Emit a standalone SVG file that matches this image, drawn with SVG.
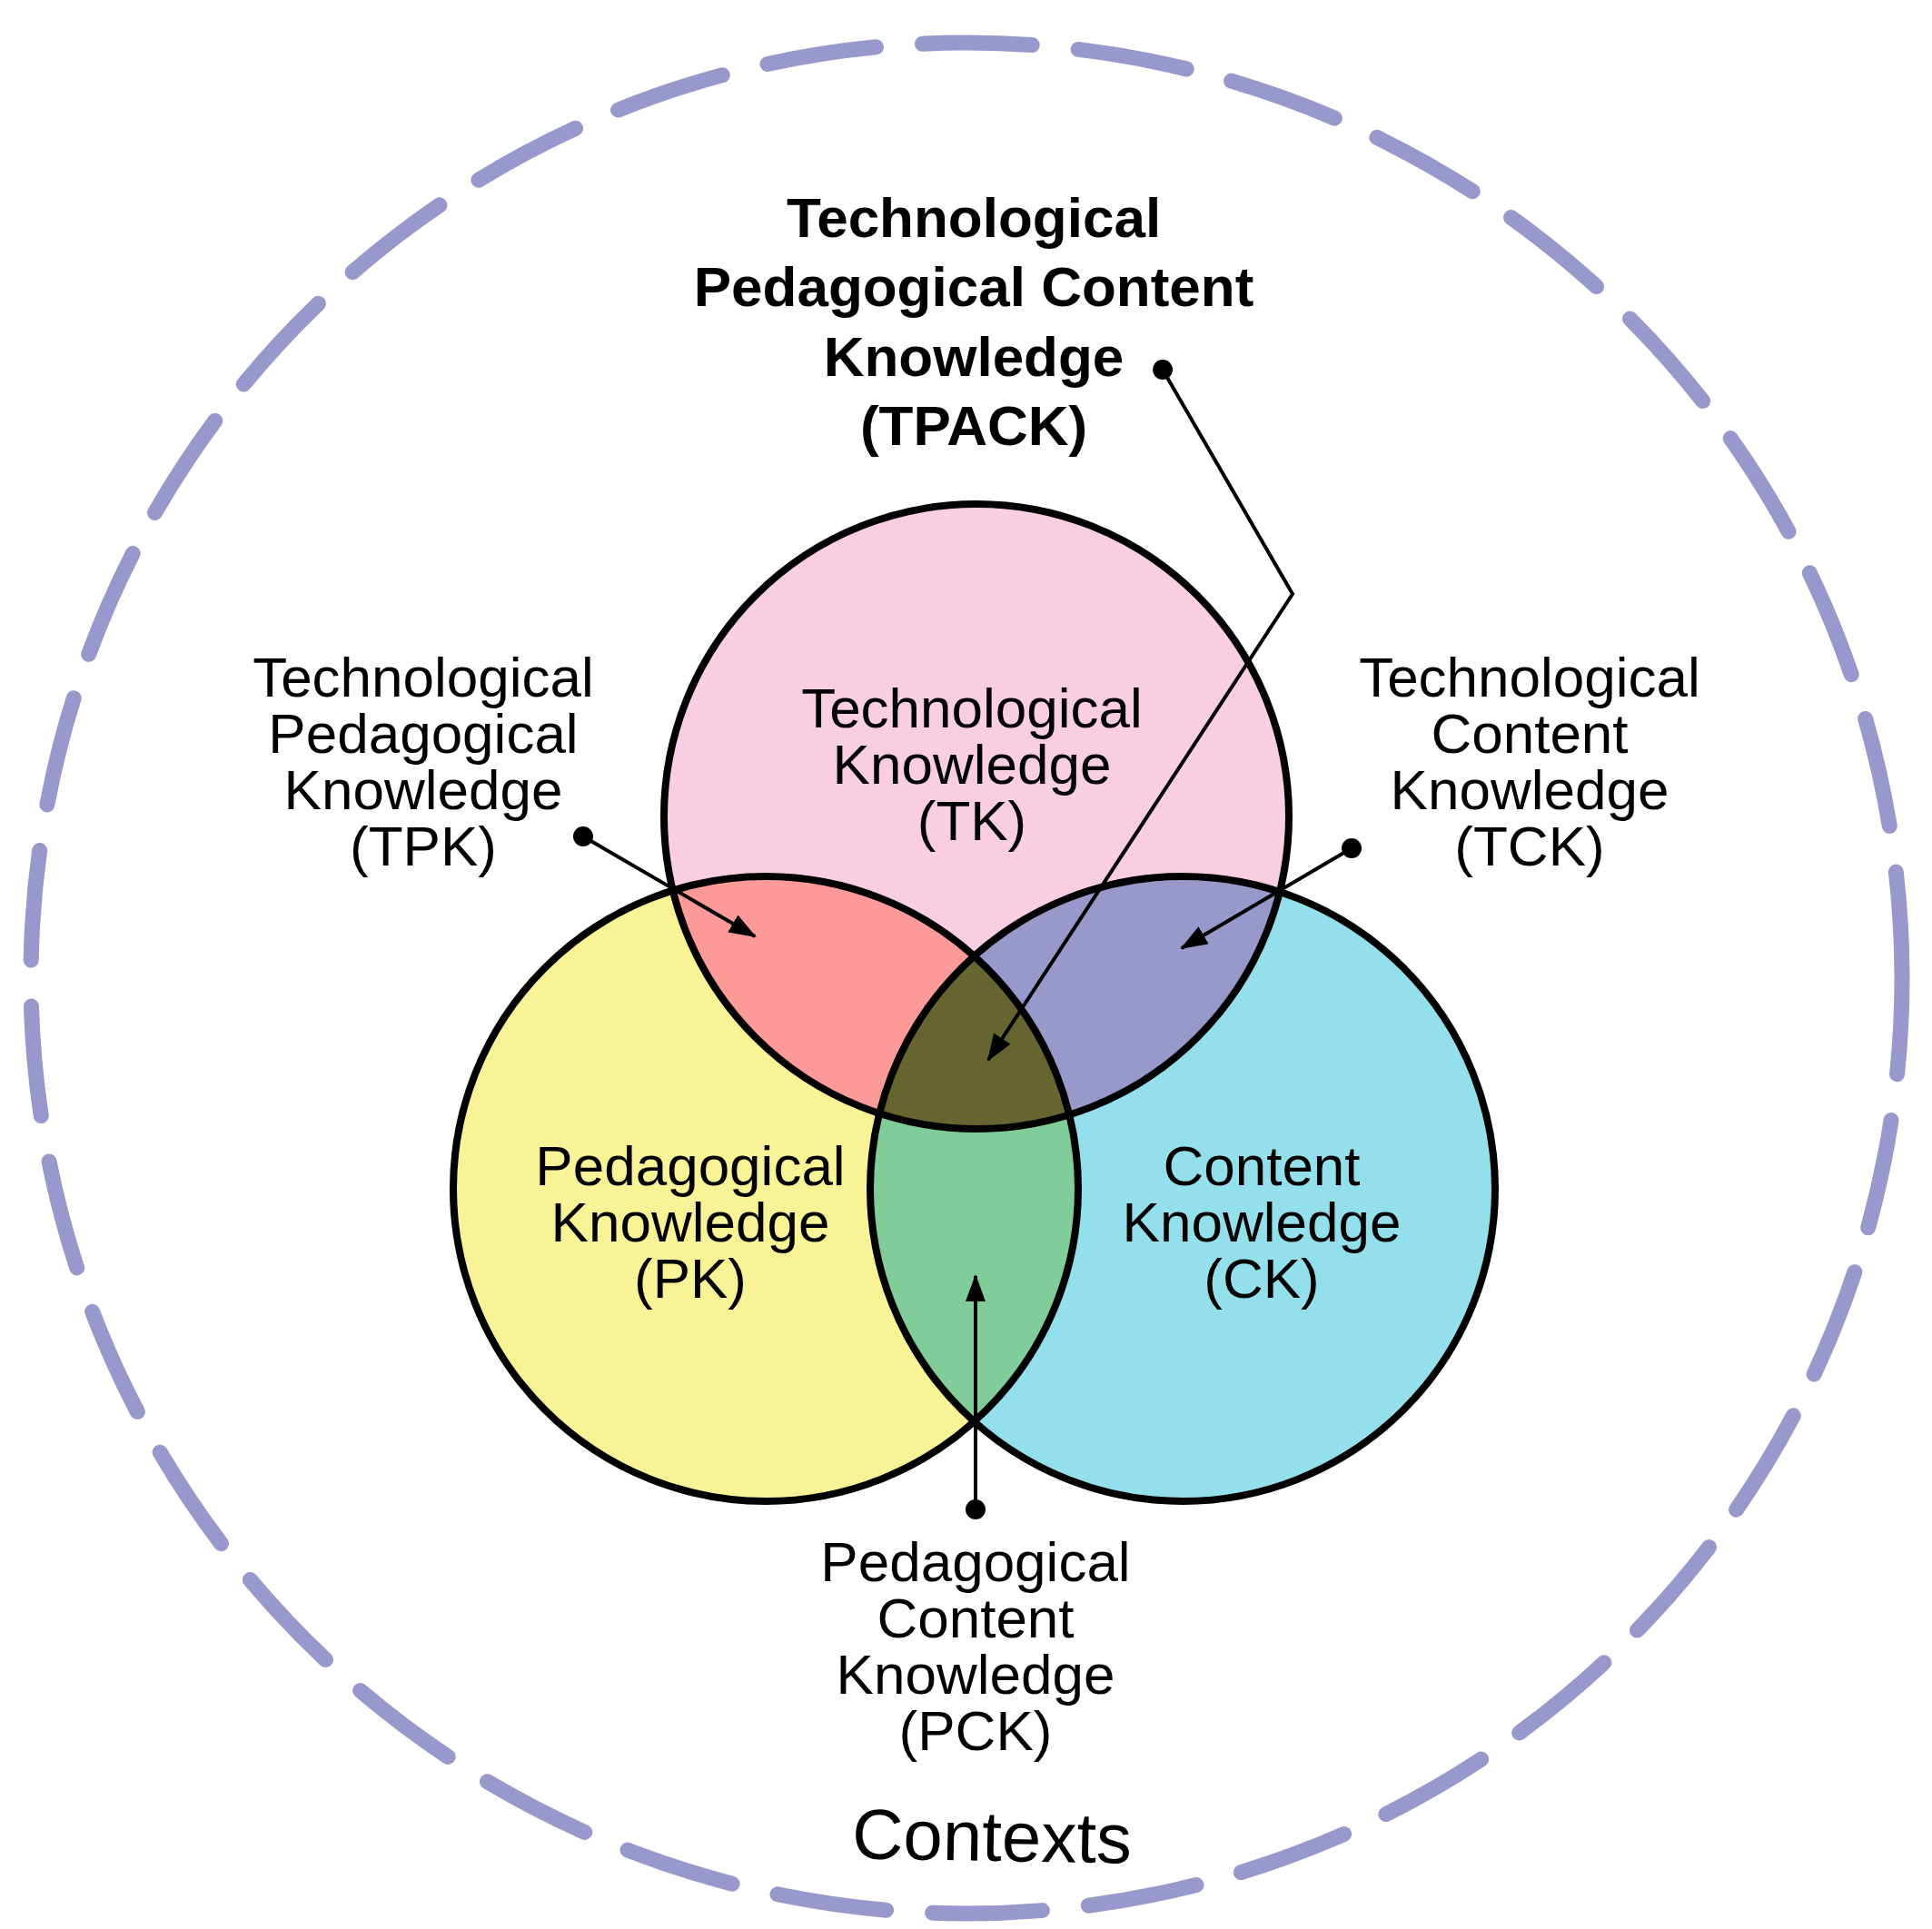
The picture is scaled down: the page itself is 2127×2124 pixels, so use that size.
<svg xmlns="http://www.w3.org/2000/svg" width="2127" height="2124" viewBox="0 0 2127 2124">
<style>
.lbl{font-family:"Liberation Sans",Arial,sans-serif;font-size:62px;fill:#000;text-anchor:middle}
.bold{font-weight:bold}
.ring{fill:none;stroke:#000;stroke-width:8}
.conn{fill:none;stroke:#000;stroke-width:4}
.dot{fill:#000}
</style>
<defs>
<clipPath id="cTK"><circle cx="1075" cy="899" r="344"/></clipPath>
<clipPath id="cPK"><circle cx="843" cy="1309" r="344"/></clipPath>
<marker id="arr" markerUnits="userSpaceOnUse" markerWidth="30" markerHeight="22" viewBox="0 0 30 22" refX="28" refY="11" orient="auto">
<path d="M0,0 L30,11 L0,22 z" fill="#000"/>
</marker>
</defs>
<rect width="2127" height="2124" fill="#fff"/>
<g id="contexts">
<circle cx="1064" cy="1077" r="1030" fill="none" stroke="#9898CC" stroke-width="17" stroke-linecap="round" stroke-dasharray="106 51.13 121 51.13 121 51.13 121 51.13 121 51.13 121 51.13 121 51.13 121 51.13 121 51.13 121 51.13 121 51.13 121 51.13 121 51.13 121 51.13 121 51.13 121 51.13 121 51.13 121 51.13 121 51.13 121 51.13 121 51.13 121 51.13 121 51.13 121 51.13 121 51.13 121 51.13 121 51.13 121 51.13 121 51.13 121 51.13 121 51.13 121 51.13 121 51.13 121 51.13 121 51.13 121 51.13 121 51.13 125"/>
<text class="lbl" x="1092" y="2049" style="font-size:78px" transform="rotate(1 1092 2030)">Contexts</text>
</g>
<g id="tk"><circle cx="1075" cy="899" r="344" fill="#F9CDE2"/></g>
<g id="pk"><circle cx="843" cy="1309" r="344" fill="#F9F397"/></g>
<g id="ck"><circle cx="1302" cy="1309" r="344" fill="#93E0EC"/></g>
<g id="tpk-region"><circle cx="843" cy="1309" r="344" fill="#FC9999" clip-path="url(#cTK)"/></g>
<g id="tck-region"><circle cx="1302" cy="1309" r="344" fill="#9898CB" clip-path="url(#cTK)"/></g>
<g id="pck-region"><circle cx="1302" cy="1309" r="344" fill="#80CD99" clip-path="url(#cPK)"/></g>
<g id="tpack-region" clip-path="url(#cTK)"><circle cx="1302" cy="1309" r="344" fill="#66652F" clip-path="url(#cPK)"/></g>
<g id="outlines">
<circle class="ring" cx="1075" cy="899" r="344"/>
<circle class="ring" cx="843" cy="1309" r="344"/>
<circle class="ring" cx="1302" cy="1309" r="344"/>
</g>
<g id="connectors">
<polyline class="conn" points="1280,407 1423,654 1088,1167" marker-end="url(#arr)"/>
<line class="conn" x1="642" y1="921" x2="831" y2="1031" marker-end="url(#arr)"/>
<line class="conn" x1="1488" y1="934" x2="1301" y2="1044" marker-end="url(#arr)"/>
<line class="conn" x1="1074" y1="1662" x2="1074" y2="1405" marker-end="url(#arr)"/>
<circle class="dot" cx="1280" cy="407" r="11"/>
<circle class="dot" cx="642" cy="921" r="11"/>
<circle class="dot" cx="1488" cy="934" r="11"/>
<circle class="dot" cx="1074" cy="1662" r="11"/>
</g>
<g id="tk-label">
<text class="lbl" x="1070" y="801">Technological</text>
<text class="lbl" x="1070" y="863">Knowledge</text>
<text class="lbl" x="1070" y="925">(TK)</text>
</g>
<g id="pk-label">
<text class="lbl" x="760" y="1305">Pedagogical</text>
<text class="lbl" x="760" y="1367">Knowledge</text>
<text class="lbl" x="760" y="1429">(PK)</text>
</g>
<g id="ck-label">
<text class="lbl" x="1389" y="1305">Content</text>
<text class="lbl" x="1389" y="1367">Knowledge</text>
<text class="lbl" x="1389" y="1429">(CK)</text>
</g>
<g id="tpk-label">
<text class="lbl" x="466" y="767">Technological</text>
<text class="lbl" x="466" y="829">Pedagogical</text>
<text class="lbl" x="466" y="891">Knowledge</text>
<text class="lbl" x="466" y="953">(TPK)</text>
</g>
<g id="tck-label">
<text class="lbl" x="1684" y="767">Technological</text>
<text class="lbl" x="1684" y="829">Content</text>
<text class="lbl" x="1684" y="891">Knowledge</text>
<text class="lbl" x="1684" y="953">(TCK)</text>
</g>
<g id="pck-label">
<text class="lbl" x="1074" y="1741">Pedagogical</text>
<text class="lbl" x="1074" y="1803">Content</text>
<text class="lbl" x="1074" y="1865">Knowledge</text>
<text class="lbl" x="1074" y="1927">(PCK)</text>
</g>
<g id="tpack-label">
<text class="lbl bold" x="1072" y="261">Technological</text>
<text class="lbl bold" x="1072" y="337">Pedagogical Content</text>
<text class="lbl bold" x="1072" y="414">Knowledge</text>
<text class="lbl bold" x="1072" y="490">(TPACK)</text>
</g>
</svg>
